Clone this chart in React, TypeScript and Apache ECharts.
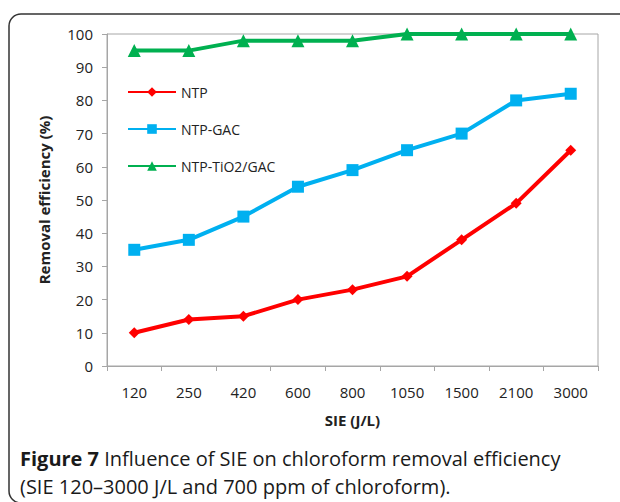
import React, { useEffect, useRef } from "react";
import * as echarts from "echarts";

const categories = ["120", "250", "420", "600", "800", "1050", "1500", "2100", "3000"];
const ntp = [10, 14, 15, 20, 23, 27, 38, 49, 65];
const ntpGac = [35, 38, 45, 54, 59, 65, 70, 80, 82];
const ntpTio2Gac = [95, 95, 98, 98, 98, 100, 100, 100, 100];
const seriesNames = ["NTP", "NTP-GAC", "NTP-TiO2/GAC"];
const captionBold = "Figure 7";
const captionLine1 = " Influence of SIE on chloroform removal efficiency";
const captionLine2 = "(SIE 120\u20133000 J/L and 700 ppm of chloroform).";

const FONT = "'Open Sans', 'Noto Sans', sans-serif";

export default function App() {
  const ref = useRef<HTMLDivElement>(null);
  useEffect(() => {
    document.body.style.margin = "0";
    const chart = echarts.init(ref.current!, null, { renderer: "svg" });
    const lineSeries = (name: string, data: number[], color: string, symbol: string, size: number) => ({
      name,
      type: "line",
      data,
      symbol,
      symbolSize: size,
      lineStyle: { color, width: 4 },
      itemStyle: { color },
      emphasis: { disabled: true },
    });
    chart.setOption({
      animation: false,
      backgroundColor: "#ffffff",
      textStyle: { fontFamily: FONT },
      graphic: [
        {
          type: "rect",
          shape: { x: 9, y: 14, width: 640, height: 489, r: 12 },
          style: { fill: "none", stroke: "#333", lineWidth: 1.5 },
          silent: true,
        },
        {
          type: "text",
          left: 20,
          top: 444,
          style: {
            text: "{b|" + captionBold + "}" + captionLine1 + "\n" + captionLine2,
            font: "20px " + FONT,
            fill: "#1a1a1a",
            lineHeight: 28,
            rich: {
              b: { fontWeight: "bold", fontSize: 20, fontFamily: FONT, fill: "#1a1a1a", lineHeight: 28 },
            },
          },
        },
      ],
      legend: {
        orient: "vertical",
        left: 122,
        top: 80,
        itemWidth: 48,
        itemHeight: 12,
        itemGap: 23,
        textStyle: { fontSize: 14, color: "#222", fontFamily: FONT },
        data: seriesNames,
        selectedMode: false,
      },
      grid: { left: 107, right: 22, top: 34, bottom: 136, show: true, borderColor: "#a6a6a6", borderWidth: 1, backgroundColor: "transparent" },
      xAxis: {
        type: "category",
        data: categories,
        name: "SIE (J/L)",
        nameLocation: "middle",
        nameGap: 46,
        nameTextStyle: { fontWeight: "bold", fontSize: 15, color: "#222", fontFamily: FONT },
        axisLine: { lineStyle: { color: "#a6a6a6", width: 1 } },
        axisTick: { show: true, length: 5, lineStyle: { color: "#a6a6a6" } },
        axisLabel: { fontSize: 15, color: "#222", margin: 18, fontFamily: FONT },
        splitLine: { show: false },
      },
      yAxis: {
        type: "value",
        min: 0,
        max: 100,
        interval: 10,
        name: "Removal efficiency (%)",
        nameLocation: "middle",
        nameGap: 56,
        nameTextStyle: { fontWeight: "bold", fontSize: 15, color: "#222", fontFamily: FONT },
        axisLine: { show: true, lineStyle: { color: "#a6a6a6", width: 1 } },
        axisTick: { show: true, length: 5, lineStyle: { color: "#a6a6a6" } },
        axisLabel: { fontSize: 15, color: "#222", margin: 14, fontFamily: FONT },
        splitLine: { show: false },
      },
      series: [
        lineSeries(seriesNames[0], ntp, "#ff0000", "diamond", 11),
        lineSeries(seriesNames[1], ntpGac, "#00b0f0", "rect", 12),
        lineSeries(seriesNames[2], ntpTio2Gac, "#00b050", "triangle", 13),
      ],
    });
    return () => chart.dispose();
  }, []);
  return <div ref={ref} style={{ width: 620, height: 502 }} />;
}
